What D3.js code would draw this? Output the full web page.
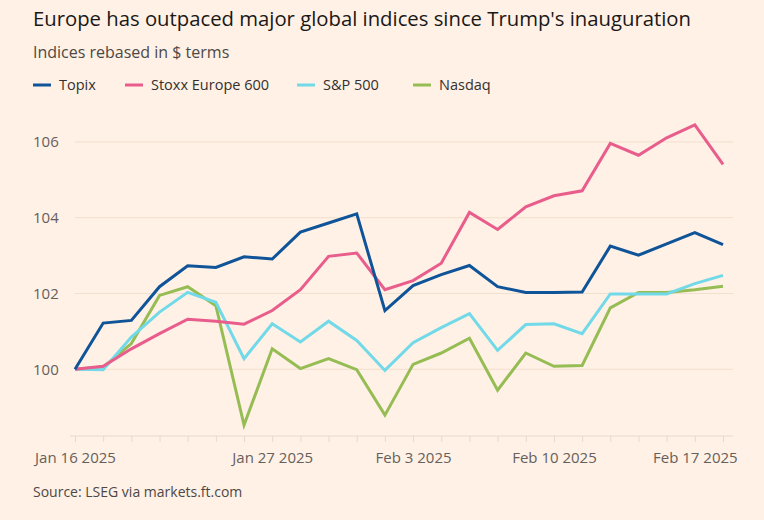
<!DOCTYPE html>
<html>
<head>
<meta charset="utf-8">
<script src="https://cdn.jsdelivr.net/npm/d3@7"></script>
<style>
  body { margin: 0; background: #fff1e5; font-family: "Open Sans", sans-serif; }
  svg { display: block; }
</style>
</head>
<body>
<svg id="chart" width="764" height="520"></svg>
<script>
const dates = ['Jan 16', 'Jan 17', 'Jan 20', 'Jan 21', 'Jan 22', 'Jan 23', 'Jan 24', 'Jan 27', 'Jan 28', 'Jan 29',
  'Jan 30', 'Jan 31', 'Feb 3', 'Feb 4', 'Feb 5', 'Feb 6', 'Feb 7', 'Feb 10', 'Feb 11', 'Feb 12', 'Feb 13',
  'Feb 14', 'Feb 17', 'Feb 18'];
const topix = [100, 101.22, 101.29, 102.18, 102.73, 102.69, 102.97, 102.91, 103.62, 103.86, 104.1, 101.55,
  102.21, 102.5, 102.74, 102.18, 102.03, 102.03, 102.04, 103.25, 103.01, 103.31, 103.61, 103.29];
const stoxx = [100, 100.08, 100.54, 100.94, 101.32, 101.27, 101.19, 101.55, 102.1, 102.98, 103.07, 102.1,
  102.34, 102.8, 104.14, 103.69, 104.29, 104.58, 104.71, 105.96, 105.65, 106.11, 106.45, 105.41];
const sp500 = [100, 99.99, 100.85, 101.51, 102.03, 101.77, 100.28, 101.2, 100.72, 101.27, 100.76, 99.97,
  100.7, 101.1, 101.47, 100.5, 101.18, 101.2, 100.94, 101.99, 101.99, 101.99, 102.26, 102.48];
const nasdaq = [100, 100.06, 100.68, 101.95, 102.18, 101.68, 98.53, 100.54, 100.02, 100.28, 99.99, 98.79,
  100.13, 100.43, 100.82, 99.45, 100.43, 100.08, 100.1, 101.62, 102.03, 102.03, 102.1, 102.19];
const yTicks = [100, 102, 104, 106];
const xLabels = { 'Jan 16': 'Jan 16 2025', 'Jan 27': 'Jan 27 2025', 'Feb 3': 'Feb 3 2025', 'Feb 10': 'Feb 10 2025', 'Feb 17': 'Feb 17 2025' };

const series = [
  { name: 'Topix', values: topix, color: '#0f5499' },
  { name: 'Stoxx Europe 600', values: stoxx, color: '#e95d8c' },
  { name: 'S&P 500', values: sp500, color: '#72d9e9' },
  { name: 'Nasdaq', values: nasdaq, color: '#96bc54' },
];

const svg = d3.select('#chart');
const x = d3.scalePoint().domain(dates).range([75, 723]);
const y = d3.scaleLinear().domain([98.24, 106.5]).range([436, 123]);

svg.append('text').attr('x', 33).attr('y', 26).attr('font-size', 20.3).attr('fill', '#1a1817')
  .text("Europe has outpaced major global indices since Trump's inauguration");
svg.append('text').attr('x', 33).attr('y', 58).attr('font-size', 16).attr('fill', '#4d4845')
  .text('Indices rebased in $ terms');

const legendX = [33, 125, 297, 413];
const legend = svg.append('g').selectAll('g').data(series).join('g')
  .attr('transform', (d, i) => `translate(${legendX[i]},85)`);
legend.append('line').attr('x1', 0).attr('x2', 18).attr('stroke', d => d.color).attr('stroke-width', 3);
legend.append('text').attr('x', 26).attr('dy', '0.35em').attr('font-size', 14.5).attr('fill', '#33302e')
  .text(d => d.name);

// grid
svg.append('g').selectAll('line').data(yTicks).join('line')
  .attr('x1', 75).attr('x2', 733).attr('y1', d => y(d)).attr('y2', d => y(d))
  .attr('stroke', '#f2dfce').attr('stroke-width', 1);
svg.append('g').selectAll('text').data(yTicks).join('text')
  .attr('x', 33).attr('y', d => y(d)).attr('dy', '0.35em').attr('font-size', 15).attr('fill', '#66605c')
  .text(d => d);

// x axis
const xAxis = svg.append('g').attr('transform', 'translate(0,436)')
  .call(d3.axisBottom(x).tickSize(6).tickFormat(d => xLabels[d] || ''));
xAxis.select('.domain').attr('stroke', '#e6d9ce').attr('d', 'M70,0H733');
xAxis.selectAll('.tick line').attr('stroke', '#e6d9ce');
xAxis.selectAll('text').attr('font-size', 15).attr('fill', '#66605c').attr('dy', '1.2em')
  .attr('font-family', '"Open Sans", sans-serif');

const line = d3.line().x((d, i) => x(dates[i])).y(d => y(d));
svg.append('g').selectAll('path').data([series[3], series[2], series[1], series[0]]).join('path')
  .attr('fill', 'none').attr('stroke', d => d.color).attr('stroke-width', 3)
  .attr('stroke-linejoin', 'miter').attr('d', d => line(d.values));

svg.append('text').attr('x', 33).attr('y', 497).attr('font-size', 14).attr('fill', '#4d4845')
  .text('Source: LSEG via markets.ft.com');
</script>
</body>
</html>
